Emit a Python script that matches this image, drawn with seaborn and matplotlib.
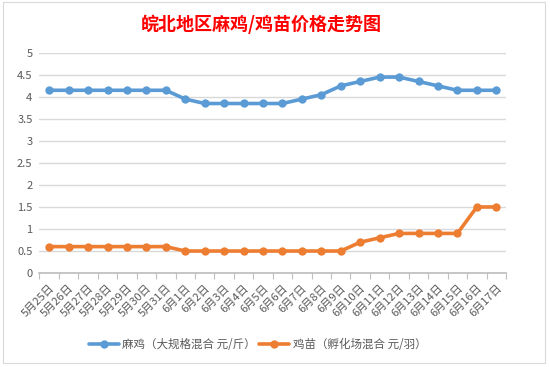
import numpy as np
import pandas as pd
import seaborn as sns
from matplotlib import pyplot as plt

# data
dates = ['5月25日', '5月26日', '5月27日', '5月28日', '5月29日', '5月30日', '5月31日',
         '6月1日', '6月2日', '6月3日', '6月4日', '6月5日', '6月6日', '6月7日', '6月8日',
         '6月9日', '6月10日', '6月11日', '6月12日', '6月13日', '6月14日', '6月15日',
         '6月16日', '6月17日']
maji = [4.15, 4.15, 4.15, 4.15, 4.15, 4.15, 4.15,
        3.95, 3.85, 3.85, 3.85, 3.85, 3.85, 3.95, 4.05,
        4.25, 4.35, 4.45, 4.45, 4.35, 4.25, 4.15, 4.15, 4.15]
jimiao = [0.6, 0.6, 0.6, 0.6, 0.6, 0.6, 0.6,
          0.5, 0.5, 0.5, 0.5, 0.5, 0.5, 0.5, 0.5,
          0.5, 0.7, 0.8, 0.9, 0.9, 0.9, 0.9, 1.5, 1.5]
series_names = ['麻鸡（大规格混合 元/斤）', '鸡苗（孵化场混合 元/羽）']
colors = ['#5B9BD5', '#ED7D31']

df = pd.DataFrame({'idx': np.arange(len(dates)), series_names[0]: maji, series_names[1]: jimiao})
long_df = df.melt(id_vars='idx', var_name='series', value_name='price')

sns.set_theme(style='white')
plt.rcParams['font.family'] = ['Noto Sans CJK SC', 'DejaVu Sans']

fig = plt.figure(figsize=(5.5, 3.67), dpi=100)
ax = fig.add_axes([0.0718, 0.256, 0.8482, 0.6])

sns.lineplot(data=long_df, x='idx', y='price', hue='series', palette=colors,
             marker='o', markersize=6, markeredgewidth=0, linewidth=2.6, ax=ax, legend=False)

ax.set_xlim(-0.5, len(dates) - 0.5)
ax.set_ylim(0, 5)
ax.set_yticks(np.arange(0, 5.01, 0.5))
ax.set_yticklabels(['0', '0.5', '1', '1.5', '2', '2.5', '3', '3.5', '4', '4.5', '5'])
ax.yaxis.grid(True, color='#D9D9D9', linewidth=1)
ax.set_xticks(np.arange(len(dates)))
ax.set_xticklabels(dates, rotation=45, ha='right', rotation_mode='anchor')
ax.set_xticks(np.arange(-0.5, len(dates)), minor=True)
ax.tick_params(axis='x', which='major', length=0, pad=7, labelsize=8, colors='#595959')
ax.tick_params(axis='x', which='minor', length=4, width=0.8, color='#BFBFBF', bottom=True)
ax.tick_params(axis='y', length=0, labelsize=8, colors='#595959', pad=5)
for side in ['top', 'right', 'left']:
    ax.spines[side].set_visible(False)
ax.spines['bottom'].set_color('#BFBFBF')
ax.set_xlabel('')
ax.set_ylabel('')

fig.text(0.475, 0.935, '皖北地区麻鸡/鸡苗价格走势图', ha='center', va='center',
         color='red', fontsize=13, fontweight='bold')

handles = [plt.Line2D([], [], color=c, marker='o', markersize=6, markeredgewidth=0, linewidth=2.6)
           for c in colors]
leg = fig.legend(handles, series_names, loc='center', bbox_to_anchor=(0.468, 0.06), ncol=2,
                 frameon=False, fontsize=8.3, handlelength=2.6, columnspacing=0.3, handletextpad=0.3)
for t in leg.get_texts():
    t.set_color('#595959')

# faint chart frame like the spreadsheet border
fig.patches.append(plt.Rectangle((0.005, 0.01), 0.985, 0.985, transform=fig.transFigure,
                                 fill=False, edgecolor='#D9D9D9', linewidth=0.8))

fig.savefig('out.png', dpi=100, facecolor='white')
